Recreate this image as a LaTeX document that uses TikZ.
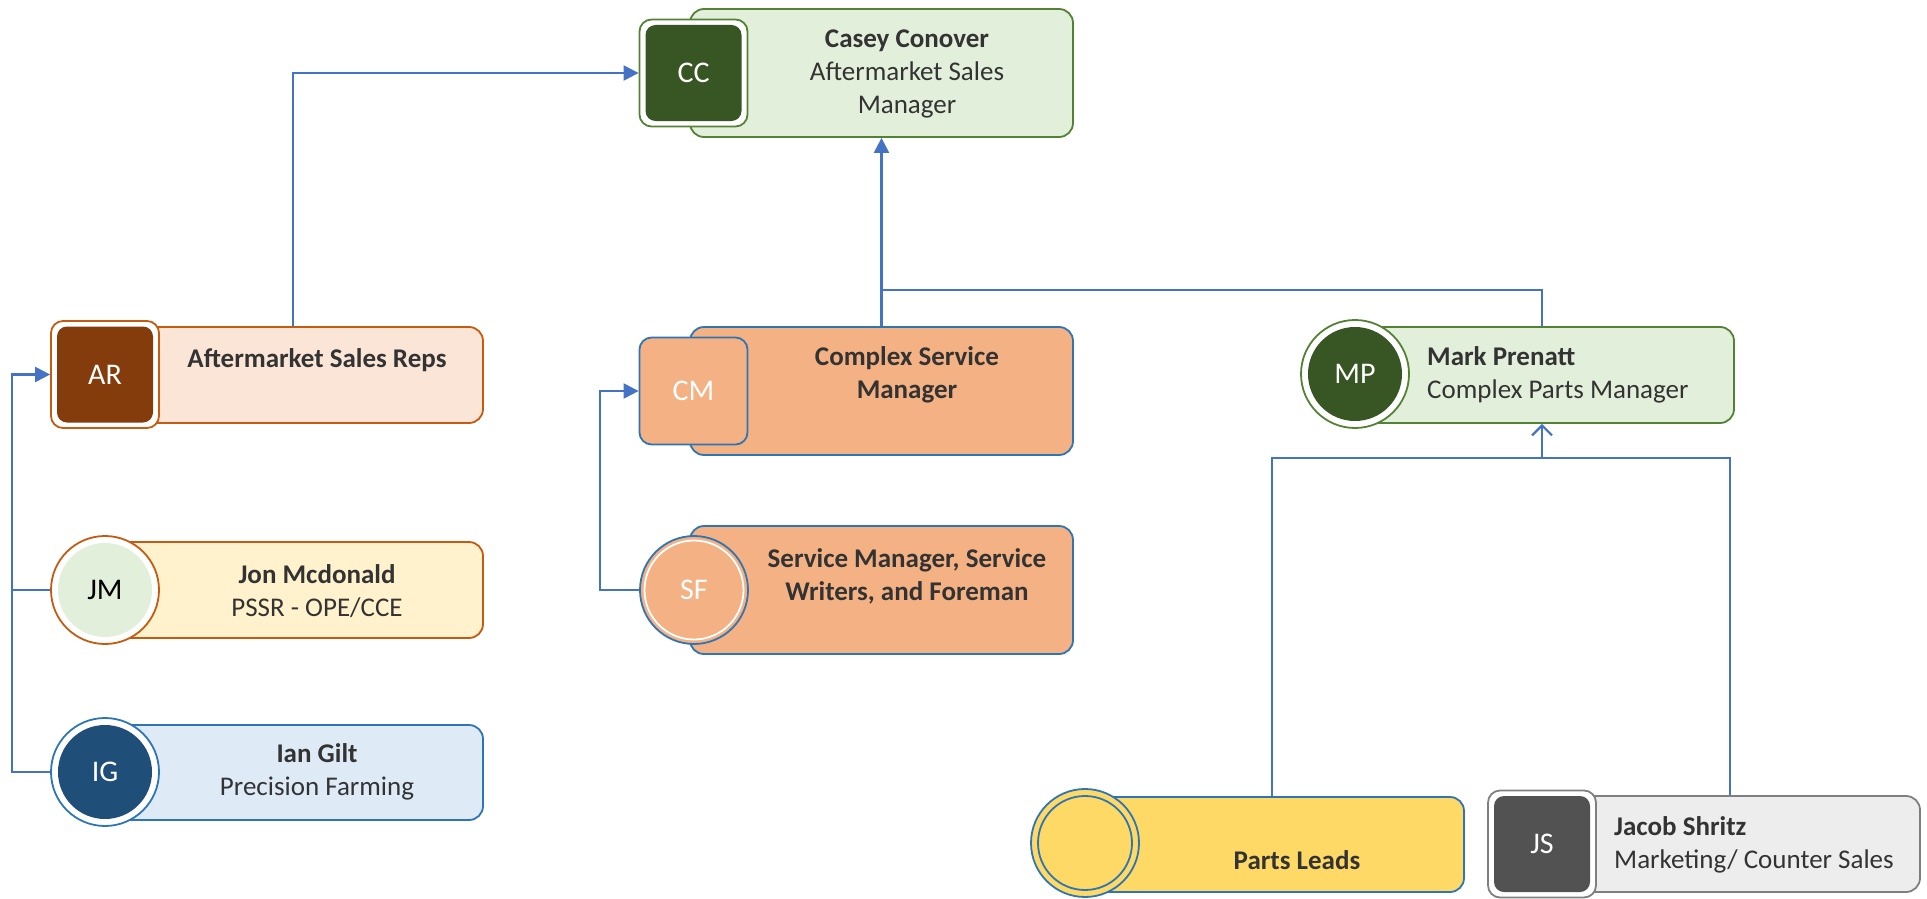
\documentclass[tikz,border=0pt]{standalone}
\usepackage{fontspec}
\setmainfont{Carlito}
\usetikzlibrary{arrows.meta}

\definecolor{linkblue}{HTML}{4472C4}
\definecolor{txtgray}{HTML}{333333}
\definecolor{grnline}{HTML}{548235}
\definecolor{grnfill}{HTML}{E2EFDA}
\definecolor{grndark}{HTML}{375623}
\definecolor{brnline}{HTML}{C55A11}
\definecolor{brnfill}{HTML}{FBE5D6}
\definecolor{brndark}{HTML}{843C0C}
\definecolor{ylwfill}{HTML}{FFF2CC}
\definecolor{bluline}{HTML}{2E75B6}
\definecolor{blufill}{HTML}{DEEBF7}
\definecolor{bludark}{HTML}{1F4E79}
\definecolor{peach}{HTML}{F4B183}
\definecolor{gold}{HTML}{FFD966}
\definecolor{gryline}{HTML}{7F7F7F}
\definecolor{gryfill}{HTML}{EDEDED}
\definecolor{grydark}{HTML}{525252}

\tikzset{
  card/.style={draw, line width=1.8pt, rounded corners=14pt, inner sep=0pt},
  sqbadge/.style={draw, line width=1.8pt, fill=white, rounded corners=12pt, inner sep=0pt,
    minimum width=108pt, minimum height=107pt},
  sqinner/.style={rounded corners=10pt, inner sep=0pt, minimum width=96pt, minimum height=96pt,
    text=white, font=\fontsize{30}{34}\selectfont},
  rdbadge/.style={circle, draw, line width=1.8pt, fill=white, inner sep=0pt, minimum size=108pt},
  rdinner/.style={circle, inner sep=0pt, minimum size=94pt, text=white, font=\fontsize{30}{34}\selectfont},
  txt/.style={text=txtgray, inner sep=0pt, align=center, font=\fontsize{27}{33}\selectfont},
  link/.style={draw=linkblue, line width=2.2pt},
  tip/.style={-{Triangle[length=15pt,width=15pt]}}
}

\begin{document}
\begin{tikzpicture}[x=1pt,y=-1pt]
  \useasboundingbox (0,0) rectangle (1927,899);

  % top manager
  \node[card, draw=grnline, fill=grnfill, minimum width=383pt, minimum height=128pt] (cccard) at (881.5,73) {};
  \node[sqbadge, draw=grnline] (ccbadge) at (693.5,73) {};
  \node[sqinner, fill=grndark] at (ccbadge) {CC};
  \node[txt] (cctext) at (907,74) {\textbf{Casey Conover}\\Aftermarket Sales\\Manager};

  % left column
  \node[card, draw=brnline, fill=brnfill, minimum width=423pt, minimum height=96pt] (arcard) at (271.5,375) {};
  \node[sqbadge, draw=brnline] (arbadge) at (105,374.5) {};
  \node[sqinner, fill=brndark] at (arbadge) {AR};
  \node[txt] (artext) at (317,360) {\textbf{Aftermarket Sales Reps}};

  \node[card, draw=brnline, fill=ylwfill, minimum width=383pt, minimum height=96pt] (jmcard) at (291.5,590) {};
  \node[rdbadge, draw=brnline] (jmbadge) at (105,590) {};
  \node[rdinner, fill=grnfill, text=black] at (jmbadge) {JM};
  \node[txt] (jmtext) at (317,591) {\textbf{Jon Mcdonald}\\PSSR - OPE/CCE};

  \node[card, draw=bluline, fill=blufill, minimum width=383pt, minimum height=95pt] (igcard) at (291.5,772.5) {};
  \node[rdbadge, draw=bluline] (igbadge) at (105,772) {};
  \node[rdinner, fill=bludark] at (igbadge) {IG};
  \node[txt] (igtext) at (317,772) {\textbf{Ian Gilt}\\Precision Farming};

  % service column
  \node[card, draw=bluline, fill=peach, minimum width=383pt, minimum height=128pt] (cmcard) at (881.5,391) {};
  \node[sqbadge, draw=bluline, fill=peach] (cmbadge) at (693.5,391) {};
  \node[text=white, font=\fontsize{30}{34}\selectfont] at (cmbadge) {CM};
  \node[txt] (cmtext) at (907,375) {\textbf{Complex Service}\\\textbf{Manager}};

  \node[card, draw=bluline, fill=peach, minimum width=383pt, minimum height=128pt] (sfcard) at (881.5,590) {};
  \node[rdbadge, draw=bluline, fill=peach] (sfbadge) at (694,590) {};
  \node[rdinner, draw=white, line width=1.8pt, minimum size=99pt] at (sfbadge) {SF};
  \node[txt] (sftext) at (907,576) {\textbf{Service Manager, Service}\\\textbf{Writers, and Foreman}};

  % parts column
  \node[card, draw=grnline, fill=grnfill, minimum width=384pt, minimum height=96pt] (mpcard) at (1542,375) {};
  \node[rdbadge, draw=grnline] (mpbadge) at (1355,374) {};
  \node[rdinner, fill=grndark] at (mpbadge) {MP};
  \node[txt, anchor=west, align=left] (mptext) at (1427,375) {\textbf{Mark Prenatt}\\Complex Parts Manager};

  \node[card, draw=bluline, fill=gold, minimum width=384pt, minimum height=95pt] (plcard) at (1272,844.5) {};
  \node[rdbadge, draw=bluline, fill=gold] (plbadge) at (1085,843) {};
  \node[rdinner, draw=bluline, line width=1.8pt] at (plbadge) {};
  \node[txt] (pltext) at (1297,860) {\textbf{Parts Leads}};

  \node[card, draw=gryline, fill=gryfill, minimum width=380pt, minimum height=96pt] (jscard) at (1730,844) {};
  \node[sqbadge, draw=gryline] (jsbadge) at (1542,844) {};
  \node[sqinner, fill=grydark] at (jsbadge) {JS};
  \node[txt, anchor=west, align=left] (jstext) at (1614,845) {\textbf{Jacob Shritz}\\Marketing/ Counter Sales};

  % reporting lines
  \coordinate (trunk) at (881.5,290);
  \coordinate (pbus) at (1542,458);
  \coordinate (lbus) at (12,0);
  \coordinate (sbus) at (600,0);

  \draw[link, tip] ([xshift=21.5pt]arcard.north) |- (ccbadge.west);
  \draw[link, tip] (cmcard.north) -- (cccard.south);
  \draw[link] (mpcard.north) |- (trunk);
  \draw[link, tip] (igbadge.west) -- (igbadge.west -| lbus) |- (arbadge.west);
  \draw[link] (jmbadge.west) -- (jmbadge.west -| lbus);
  \draw[link, tip] (sfbadge.west) -- (sfbadge.west -| sbus) |- (cmbadge.west);
  \draw[link] (plcard.north) |- (pbus) -| (jscard.north);
  \draw[link, -{Straight Barb[length=10pt,width=20pt]}] (pbus) -- (mpcard.south);
\end{tikzpicture}
\end{document}
